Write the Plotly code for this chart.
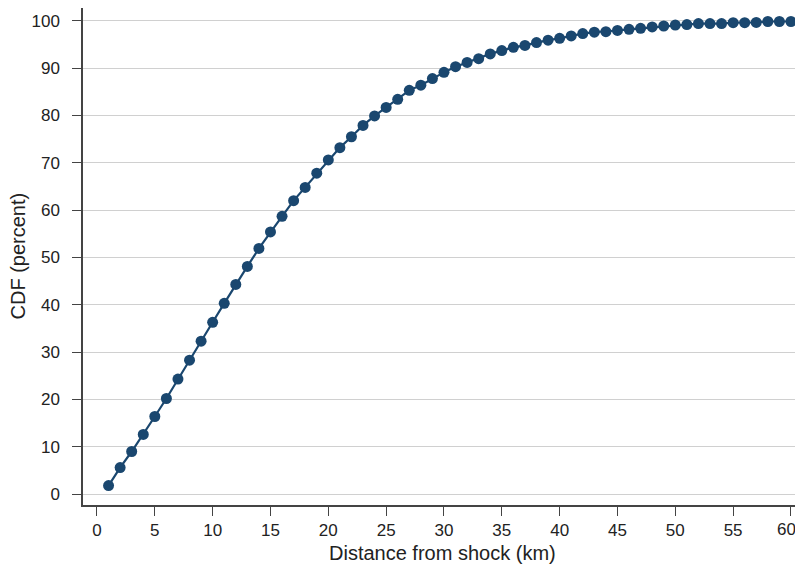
import plotly.graph_objects as go

distance_km = list(range(1, 61))
cdf_percent = [
    1.8, 5.6, 9.0, 12.6, 16.4, 20.2, 24.3, 28.3, 32.3, 36.3,
    40.3, 44.3, 48.1, 51.9, 55.4, 58.7, 62.0, 64.8, 67.8, 70.6,
    73.2, 75.5, 77.9, 79.9, 81.7, 83.4, 85.3, 86.4, 87.8, 89.1,
    90.3, 91.2, 92.0, 93.0, 93.7, 94.4, 94.8, 95.4, 95.9, 96.3,
    96.8, 97.3, 97.6, 97.7, 97.95, 98.2, 98.4, 98.7, 98.9, 99.1,
    99.2, 99.4, 99.4, 99.4, 99.6, 99.6, 99.65, 99.85, 99.85, 99.85,
]
x_ticks = list(range(0, 61, 5))
x_tick_labels = [str(v) for v in x_ticks]
y_ticks = list(range(0, 101, 10))
x_title = "Distance from shock (km)"
y_title = "CDF (percent)"

color = "#1a476f"
font_family = "Liberation Sans, Arial, sans-serif"

fig = go.Figure(
    go.Scatter(
        x=distance_km,
        y=cdf_percent,
        mode="lines+markers",
        line=dict(color=color, width=2.2),
        marker=dict(color=color, size=11),
        cliponaxis=False,
        hoverinfo="skip",
    )
)

# last x tick label is drawn as an annotation nudged left so it stays inside the page
axis_labels = x_tick_labels[:-1] + [""]
last_label = dict(text=x_tick_labels[-1], xref="x", yref="paper", x=x_ticks[-1], y=0,
                  xanchor="center", yanchor="middle", xshift=-4, yshift=-24,
                  showarrow=False, font=dict(size=17))

# the page body has an 8px margin on every side, so the figure is 16px smaller
fig.update_layout(
    width=787,
    height=558,
    margin=dict(l=75, r=0, t=0, b=61),
    paper_bgcolor="white",
    plot_bgcolor="white",
    showlegend=False,
    font=dict(family=font_family, size=17, color="#222222"),
    annotations=[
        dict(text=x_title, xref="paper", yref="paper", x=0.5, y=0,
             xanchor="center", yanchor="middle", yshift=-48, xshift=3,
             showarrow=False, font=dict(size=20)),
        dict(text=y_title, xref="paper", yref="paper", x=0, y=0.5,
             xanchor="center", yanchor="middle", xshift=-66, textangle=-90,
             showarrow=False, font=dict(size=20)),
        last_label,
    ],
)

fig.update_xaxes(
    range=[-1.21, 60.35],
    tickvals=x_ticks,
    ticktext=axis_labels,
    ticks="outside",
    ticklen=9,
    tickwidth=1,
    tickcolor="#444444",
    ticklabelstandoff=0,
    ticklabeloverflow="allow",
    showline=True,
    linecolor="#444444",
    linewidth=1.5,
    showgrid=False,
    zeroline=False,
    automargin=False,
)

fig.update_yaxes(
    range=[-2.3, 102.7],
    tickvals=y_ticks,
    ticks="outside",
    ticklen=9,
    tickwidth=1,
    tickcolor="#444444",
    ticklabelstandoff=9,
    ticklabeloverflow="allow",
    showline=True,
    linecolor="#444444",
    linewidth=1.5,
    showgrid=True,
    gridcolor="#d0d0d0",
    gridwidth=1,
    zeroline=False,
    automargin=False,
)

fig.write_html("out.html")
